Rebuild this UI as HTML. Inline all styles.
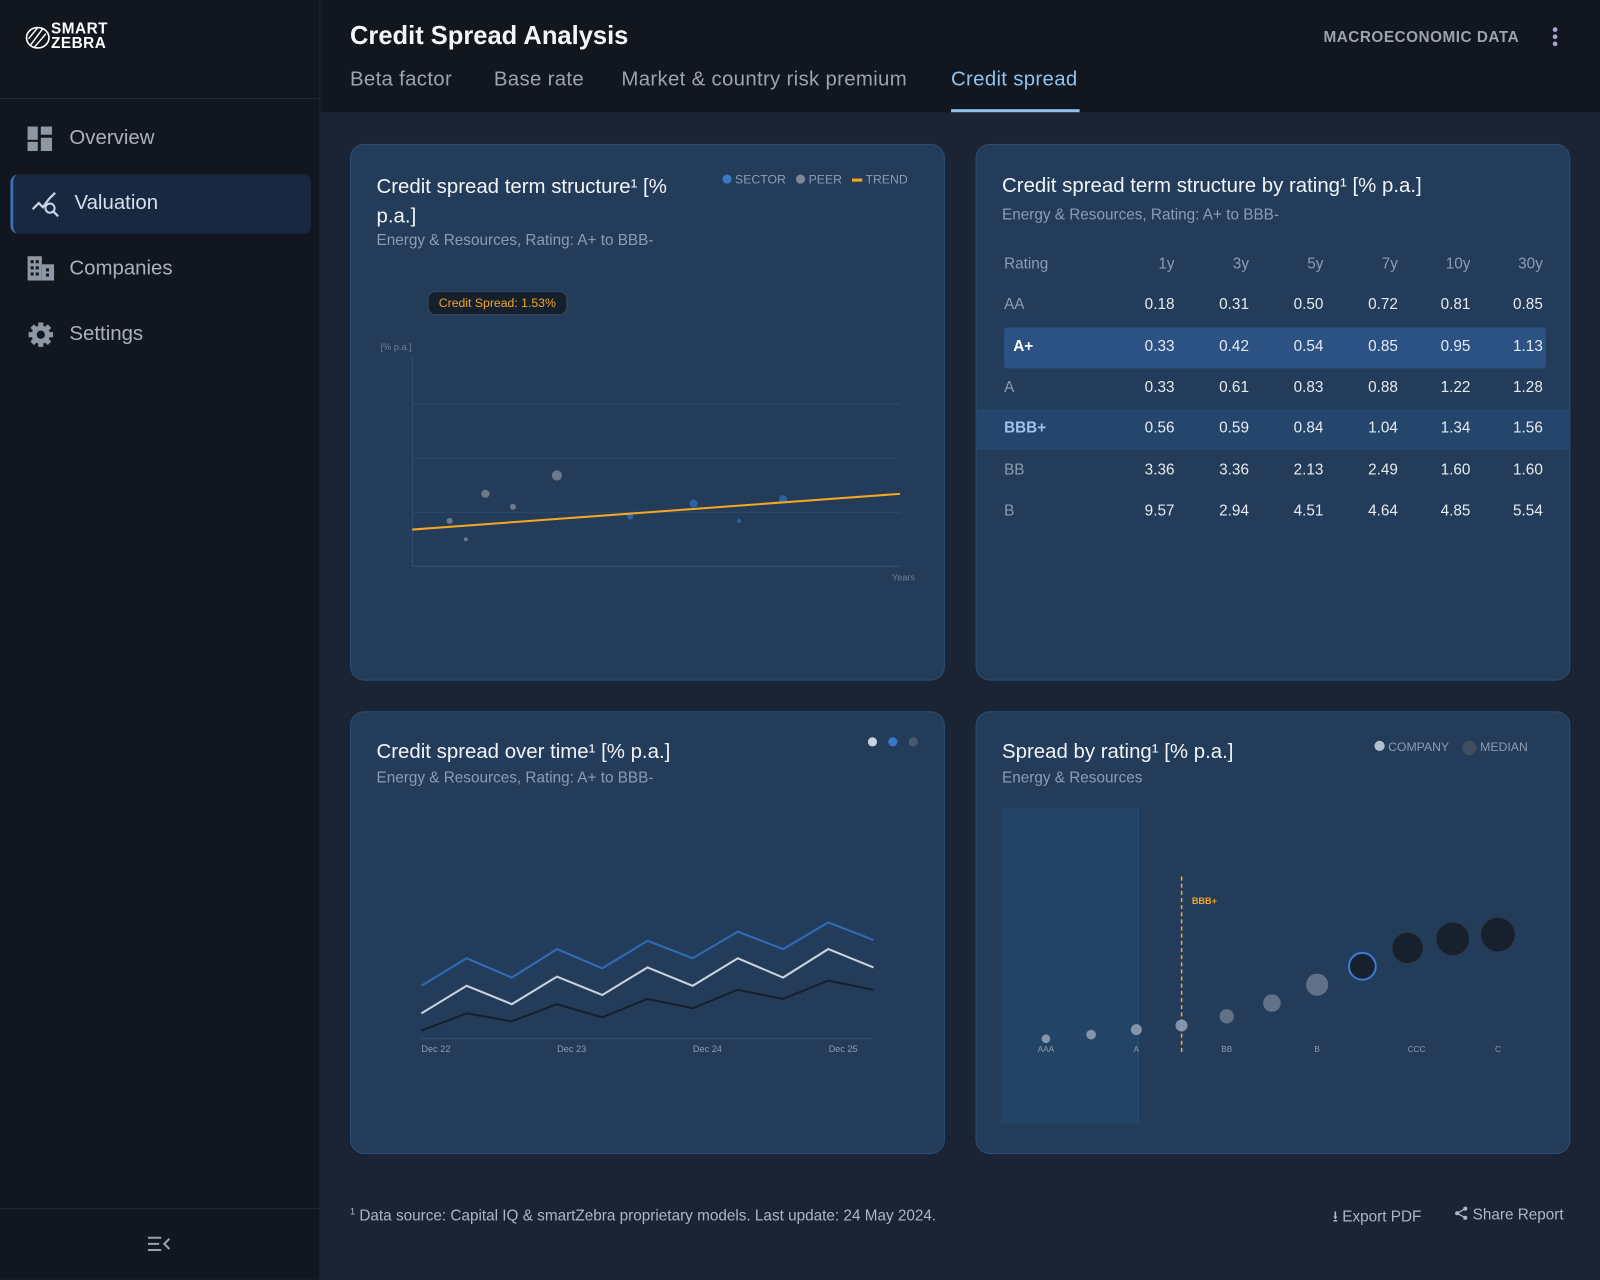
<!DOCTYPE html>
<html><head><meta charset="utf-8">
<style>
html,body{margin:0;padding:0;width:1600px;height:1280px;overflow:hidden;background:#1a2434;font-family:"Liberation Sans",sans-serif}
#root{position:absolute;left:0;top:0;width:1568px;height:1254px;transform:scale(1.0204);transform-origin:0 0;background:#1a2434}
.abs{position:absolute}
.side{left:0;top:0;width:313px;height:1254px;background:#12161e;border-right:1px solid #1e2530}
.nav{left:10px;width:292px;height:58px;border-radius:8px;color:#a9b1bd;font-size:20px}
.nav span{position:absolute;left:58px;top:17px}
.card{background:#223c5a;border:1px solid #2e4d70;border-radius:14px}
.ct{font-size:20px;color:#f1f4f8;left:25px}
.cs{font-size:15px;color:#8c9db3;left:25px}
.tab{top:67px;font-size:20px;color:#9aa3af;letter-spacing:0.3px}
.td{position:absolute;font-size:15px;color:#e6ebf1;text-align:right;width:60px}
.tl{position:absolute;font-size:15px;color:#8c9db3}
</style></head><body>
<div id="root">
<div class="abs side">
  <div class="abs" style="left:24px;top:22px;width:90px;height:30px">
    <svg width="26" height="26" style="position:absolute;left:0;top:2px"><ellipse cx="13" cy="13" rx="11" ry="10" fill="none" stroke="#fff" stroke-width="1.6"/><path d="M6 20 L18 4 M10 22 L21 9 M4 14 L13 3" stroke="#fff" stroke-width="1.4"/></svg>
    <div class="abs" style="left:26px;top:0;color:#fff;font-size:15px;font-weight:bold;line-height:14px;letter-spacing:0.5px">SMART<br>ZEBRA</div>
  </div>
  <div class="abs" style="left:0;top:96px;width:313px;height:1px;background:#222a35"></div>
  <div class="abs nav" style="top:107px">
    <svg class="abs" style="left:17px;top:17px" width="24" height="24"><rect x="0" y="0" width="10" height="13" fill="#8e97a4"/><rect x="13" y="0" width="11" height="8" fill="#8e97a4"/><rect x="0" y="15" width="10" height="9" fill="#8e97a4"/><rect x="13" y="11" width="11" height="13" fill="#8e97a4"/></svg><span>Overview</span></div>
  <div class="abs nav" style="top:171px;background:#182840;border-left:3px solid #3a6fb0;color:#d6e0ec">
    <svg class="abs" style="left:17px;top:16px" width="30" height="26"><path d="M2 18 L8 12 L12 16 L18 8 L24 2" stroke="#c8d4e4" stroke-width="2.2" fill="none"/><circle cx="19" cy="17" r="4.5" stroke="#c8d4e4" stroke-width="2" fill="none"/><path d="M22 20 L27 25" stroke="#c8d4e4" stroke-width="2.2"/></svg><span style="left:60px">Valuation</span></div>
  <div class="abs nav" style="top:235px">
    <svg class="abs" style="left:17px;top:16px" width="26" height="24"><rect x="0" y="0" width="14" height="24" fill="#8e97a4"/><rect x="14" y="8" width="12" height="16" fill="#8e97a4"/><g fill="#12161e"><rect x="3" y="4" width="3" height="3"/><rect x="8" y="4" width="3" height="3"/><rect x="3" y="10" width="3" height="3"/><rect x="8" y="10" width="3" height="3"/><rect x="3" y="16" width="3" height="3"/><rect x="8" y="16" width="3" height="3"/><rect x="18" y="12" width="3" height="3"/><rect x="18" y="17" width="3" height="3"/></g></svg><span>Companies</span></div>
  <div class="abs nav" style="top:299px">
    <svg class="abs" style="left:17px;top:16px" width="26" height="26"><circle cx="13" cy="13" r="9" fill="#8e97a4"/><g stroke="#8e97a4" stroke-width="5"><path d="M13 1 V25 M1 13 H25 M4.5 4.5 L21.5 21.5 M21.5 4.5 L4.5 21.5"/></g><circle cx="13" cy="13" r="4" fill="#12161e"/></svg><span>Settings</span></div>
  <div class="abs" style="left:0;top:1184px;width:313px;height:1px;background:#222a35"></div>
  <svg class="abs" style="left:144px;top:1210px" width="24" height="18"><path d="M1 3 H14 M1 9 H12 M1 15 H14" stroke="#9aa3af" stroke-width="2"/><path d="M22 4 L17 9 L22 14" stroke="#9aa3af" stroke-width="2" fill="none"/></svg>
</div>

<div class="abs" style="left:314px;top:0;width:1254px;height:110px;background:#12161e"></div>
<div class="abs" style="left:343px;top:21px;font-size:25px;font-weight:bold;color:#f4f6f9">Credit Spread Analysis</div>
<div class="abs" style="left:1297px;top:28px;font-size:15px;font-weight:bold;color:#9aa3af;letter-spacing:0.5px">MACROECONOMIC DATA</div>
<svg class="abs" style="left:1519px;top:26px" width="10" height="22"><circle cx="5" cy="3" r="2.3" fill="#a8a6d0"/><circle cx="5" cy="10" r="2.3" fill="#a8a6d0"/><circle cx="5" cy="17" r="2.3" fill="#a8a6d0"/></svg>
<div class="abs tab" style="left:343px">Beta factor</div>
<div class="abs tab" style="left:484px">Base rate</div>
<div class="abs tab" style="left:609px">Market &amp; country risk premium</div>
<div class="abs tab" style="left:932px;color:#8fc2ee">Credit spread</div>
<div class="abs" style="left:932px;top:107px;width:126px;height:3px;background:#8fc2ee"></div>

<!-- Card 1 -->
<div class="abs card" style="left:343px;top:141px;width:581px;height:524px">
  <div class="abs ct" style="top:27px;line-height:29px;width:320px">Credit spread term structure¹ [% p.a.]</div>
  <div class="abs cs" style="top:85px">Energy &amp; Resources, Rating: A+ to BBB-</div>
  <div class="abs" style="left:364px;top:27px;font-size:12px;color:#8c9db3">
    <span style="display:inline-block;width:9px;height:9px;border-radius:5px;background:#3a78c6"></span> SECTOR &nbsp; <span style="display:inline-block;width:9px;height:9px;border-radius:5px;background:#7d8898"></span> PEER &nbsp; <span style="display:inline-block;width:10px;height:3px;background:#f5a623;vertical-align:middle"></span> TREND</div>
  <div class="abs" style="left:75px;top:143px;padding:4px 10px;background:#15202e;border:1px solid #3a4a5e;border-radius:8px;color:#f5a623;font-size:12px">Credit Spread: 1.53%</div>
</div>
<svg id="term" class="abs" style="left:0;top:0" width="1568" height="1254"></svg>

<!-- Card 2 -->
<div class="abs card" style="left:956px;top:141px;width:581px;height:524px">
  <div class="abs ct" style="top:29px">Credit spread term structure by rating¹ [% p.a.]</div>
  <div class="abs cs" style="top:60px">Energy &amp; Resources, Rating: A+ to BBB-</div>
  <div class="abs" style="left:0;top:259px;width:581px;height:40px;background:#24466c"></div>
  <div class="abs" style="left:27px;top:179px;width:531px;height:40px;background:#2b5282;border-radius:3px"></div>
</div>
<div id="tbl"></div>

<!-- Card 3 -->
<div class="abs card" style="left:343px;top:697px;width:581px;height:432px">
  <div class="abs ct" style="top:28px">Credit spread over time¹ [% p.a.]</div>
  <div class="abs cs" style="top:56px">Energy &amp; Resources, Rating: A+ to BBB-</div>
  <svg class="abs" style="left:505px;top:23px" width="52" height="12"><circle cx="6" cy="6" r="4.5" fill="#c9d3df"/><circle cx="26" cy="6" r="4.5" fill="#3a78c6"/><circle cx="46" cy="6" r="4.5" fill="#4a5a6e"/></svg>
</div>

<!-- Card 4 -->
<div class="abs card" style="left:956px;top:697px;width:581px;height:432px">
  <div class="abs ct" style="top:28px">Spread by rating¹ [% p.a.]</div>
  <div class="abs cs" style="top:56px">Energy &amp; Resources</div>
  <div class="abs" style="left:390px;top:27px;font-size:12px;color:#8c9db3">
    <span style="display:inline-block;width:10px;height:10px;border-radius:5px;background:#b4c0d0"></span> COMPANY &nbsp;&nbsp; <span style="display:inline-block;width:14px;height:14px;border-radius:7px;background:#3f4d60;vertical-align:middle"></span> MEDIAN</div>
  <div class="abs" style="left:24px;top:94px;width:134px;height:310px;background:#244466;border-right:1px solid #2b4c72"></div>
</div>

<div class="abs" style="left:343px;top:1182px;font-size:15px;color:#aeb6c2"><sup style="font-size:9px">1</sup> Data source: Capital IQ &amp; smartZebra proprietary models. Last update: 24 May 2024.</div>
<div class="abs" style="left:1306px;top:1182px;font-size:15px;color:#aeb6c2">⭳ Export PDF</div>
<div class="abs" style="left:1425px;top:1182px;font-size:15px;color:#aeb6c2">
<svg width="14" height="14" style="vertical-align:-1px"><circle cx="11" cy="2.5" r="2" fill="#aeb6c2"/><circle cx="3" cy="7" r="2" fill="#aeb6c2"/><circle cx="11" cy="11.5" r="2" fill="#aeb6c2"/><path d="M11 2.5 L3 7 L11 11.5" stroke="#aeb6c2" fill="none" stroke-width="1.3"/></svg> Share Report</div>

<svg id="time" class="abs" style="left:0;top:0" width="1568" height="1254"></svg>
<svg id="bub" class="abs" style="left:0;top:0" width="1568" height="1254"></svg>
</div>

<script>
// ---- Term structure data ----
const peerYears=[2.3,4.5,6.2,8.9,3.3];
const peerSpreads=[0.42,0.67,0.55,0.84,0.25];
const peerSizes=[3,4,3,5,2];
const sectorYears=[13.4,17.3,20.1,22.8];
const sectorSpreads=[0.46,0.58,0.42,0.62];
const sectorSizes=[3,4,2,4];
const trendYears=[0,30];
const trendSpreads=[0.34,0.67];
const termGrid=[0.5,1.0,1.5];

// ---- Rating table data ----
const tenors=["1y","3y","5y","7y","10y","30y"];
const ratings=["AA","A+","A","BBB+","BB","B"];
const tableValues=[
 ["0.18","0.31","0.50","0.72","0.81","0.85"],
 ["0.33","0.42","0.54","0.85","0.95","1.13"],
 ["0.33","0.61","0.83","0.88","1.22","1.28"],
 ["0.56","0.59","0.84","1.04","1.34","1.56"],
 ["3.36","3.36","2.13","2.49","1.60","1.60"],
 ["9.57","2.94","4.51","4.64","4.85","5.54"]];

// ---- Over time data ----
const timeTicks=["Dec 22","Dec 23","Dec 24","Dec 25"];
const seriesBlue=[1.73,2.63,2.0,2.93,2.3,3.2,2.63,3.5,2.93,3.8,3.23];
const seriesWhite=[0.83,1.73,1.13,2.03,1.43,2.33,1.73,2.63,2.0,2.93,2.33];
const seriesDark=[0.27,0.83,0.57,1.13,0.7,1.3,1.0,1.6,1.3,1.9,1.6];

// ---- Bubble data ----
const bubbleRatings=["AAA","AA","A","BBB+","BB","BB-","B","B-","CCC","CC","C"];
const bubbleSpreads=[1.0,1.4,1.9,2.3,3.2,4.5,6.3,8.1,9.9,10.8,11.2];
const bubbleLabels=["AAA","A","BB","B","CCC","C"];
const bubbleLabelIdx=[0,2,4,6,8.2,10];

const NS="http://www.w3.org/2000/svg";
function mk(svg,tag,attrs){const e=document.createElementNS(NS,tag);for(const k in attrs)e.setAttribute(k,attrs[k]);svg.appendChild(e);return e;}

// Term chart
(function(){
 const s=document.getElementById('term');
 const X=v=>404+v/30*478, Y=v=>555-v*106;
 termGrid.forEach(g=>{const l=mk(s,'line',{x1:404,x2:882,y1:Y(g),y2:Y(g),stroke:'#2f4a6a','stroke-width':1});
  
  });
 mk(s,'line',{x1:404,x2:404,y1:350,y2:555,stroke:'#34506f'});
 mk(s,'line',{x1:404,x2:882,y1:555,y2:555,stroke:'#34506f'});
 const t1=mk(s,'text',{x:373,y:343,fill:'#6f8198','font-size':9,'font-family':'Liberation Sans'});t1.textContent='[% p.a.]';
 const t2=mk(s,'text',{x:874,y:569,fill:'#6f8198','font-size':9,'font-family':'Liberation Sans'});t2.textContent='Years';
 peerYears.forEach((v,i)=>{const c=mk(s,'circle',{cx:X(v),cy:Y(peerSpreads[i]),r:peerSizes[i],fill:'#7d8898',opacity:0.8});
  
  });
 sectorYears.forEach((v,i)=>{const c=mk(s,'circle',{cx:X(v),cy:Y(sectorSpreads[i]),r:sectorSizes[i],fill:'#2f6cb8',opacity:0.8});
  
  });
 const l=mk(s,'line',{x1:X(trendYears[0]),y1:Y(trendSpreads[0]),x2:X(trendYears[1]),y2:Y(trendSpreads[1]),stroke:'#f5a623','stroke-width':2});
 
 
})();

// Table
(function(){
 const d=document.getElementById('tbl');
 const colR=[1151,1224,1297,1370,1441,1512];
 const rowY=[299,340,380,420,461,501];
 function add(txt,x,y,cls,style){const e=document.createElement('div');e.className=cls;e.textContent=txt;e.style.left=x+'px';e.style.top=(y-9)+'px';if(style)e.style.cssText+=style;d.appendChild(e);return e;}
 const h=add('Rating',984,259,'tl');
 
 
 tenors.forEach((t,i)=>{const e=add(t,colR[i]-60,259,'td','color:#8c9db3');
  
  });
 ratings.forEach((r,j)=>{
  let st='';
  if(r==='A+')st='color:#fff;font-weight:bold;left:993px';
  if(r==='BBB+')st='color:#9fc3ea;font-weight:bold';
  const e=add(r,984,rowY[j],'tl',st);
  
  
  tableValues[j].forEach((v,i)=>{const c=add(v,colR[i]-60,rowY[j],'td');
   
   });
 });
})();

// Over time
(function(){
 const s=document.getElementById('time');
 const X=i=>413+i*44.3, Y=v=>1018-v*30;
 mk(s,'line',{x1:413,x2:856,y1:1018,y2:1018,stroke:'#34506f'});
 timeTicks.forEach((t,i)=>{const e=mk(s,'text',{x:413+i*133,y:1031,fill:'#8c9db3','font-size':9,'font-family':'Liberation Sans'});e.textContent=t;
  
  });
 [[seriesDark,'#15202e'],[seriesBlue,'#2f6cb8'],[seriesWhite,'#c9d3df']].forEach(([arr,col])=>{
  const p=mk(s,'polyline',{points:arr.map((v,i)=>X(i)+','+Y(v)).join(' '),fill:'none',stroke:col,'stroke-width':2});
  
  });
})();

// Bubble
(function(){
 const s=document.getElementById('bub');
 const X=i=>1025+i*44.3, Y=v=>1028-v*10;
 mk(s,'line',{x1:1158,x2:1158,y1:859,y2:1032,stroke:'#f5a623','stroke-width':1.5,'stroke-dasharray':'4,3'});
 const b=mk(s,'text',{x:1168,y:886,fill:'#f5a623','font-size':9,'font-weight':'bold','font-family':'Liberation Sans'});b.textContent='BBB+';
 bubbleSpreads.forEach((v,i)=>{
  let fill='#8f9db0',stroke='none',op=0.9;
  if(i>=4&&i<=6){fill='#6b7a90';op=0.85;}
  if(i>=7){fill='#17202d';stroke=i===7?'#3a7ad0':'#2a3a50';op=1;}
  const c=mk(s,'circle',{cx:X(i),cy:Y(v),r:3+v*1.25,fill,stroke,'stroke-width':i===7?2:1,opacity:op});
  
  
 });
 bubbleLabels.forEach((t,k)=>{const e=mk(s,'text',{x:X(bubbleLabelIdx[k]),y:1031,fill:'#8c9db3','font-size':8,'text-anchor':'middle','font-family':'Liberation Sans'});e.textContent=t;
  
  });
})();
</script>
</body></html>
